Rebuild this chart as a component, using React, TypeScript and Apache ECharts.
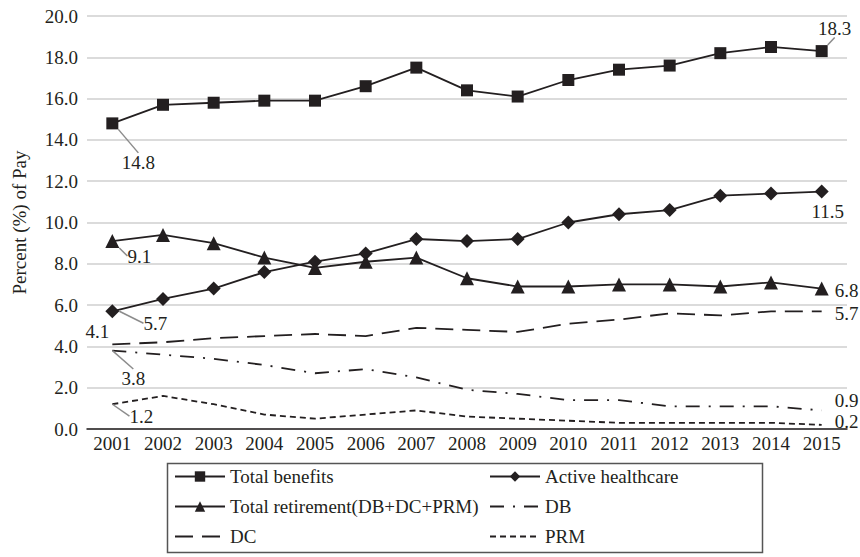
import React, { useEffect, useRef } from "react";
import * as echarts from "echarts";

const years = ["2001","2002","2003","2004","2005","2006","2007","2008","2009","2010","2011","2012","2013","2014","2015"];
const totalBenefits = [14.8, 15.7, 15.8, 15.9, 15.9, 16.6, 17.5, 16.4, 16.1, 16.9, 17.4, 17.6, 18.2, 18.5, 18.3];
const activeHealthcare = [5.7, 6.3, 6.8, 7.6, 8.1, 8.5, 9.2, 9.1, 9.2, 10.0, 10.4, 10.6, 11.3, 11.4, 11.5];
const totalRetirement = [9.1, 9.4, 9.0, 8.3, 7.8, 8.1, 8.3, 7.3, 6.9, 6.9, 7.0, 7.0, 6.9, 7.1, 6.8];
const db = [3.8, 3.6, 3.4, 3.1, 2.7, 2.9, 2.5, 1.9, 1.7, 1.4, 1.4, 1.1, 1.1, 1.1, 0.9];
const dc = [4.1, 4.2, 4.4, 4.5, 4.6, 4.5, 4.9, 4.8, 4.7, 5.1, 5.3, 5.6, 5.5, 5.7, 5.7];
const prm = [1.2, 1.6, 1.2, 0.7, 0.5, 0.7, 0.9, 0.6, 0.5, 0.4, 0.3, 0.3, 0.3, 0.3, 0.2];
const yTicks = [0, 2, 4, 6, 8, 10, 12, 14, 16, 18, 20];

const INK = "#231f20";
const FONT = "Liberation Serif";
const FS = 19;

// label offsets: [dx, dy, leader] for first and last points
const offsets: Record<string, [number, number, boolean][]> = {
  "Total benefits": [[26, 39, true], [13, -23, true]],
  "Active healthcare": [[43, 12, true], [6, 20, false]],
  "Total retirement(DB+DC+PRM)": [[27, 15, true], [25, 2, false]],
  "DB": [[21, 28, true], [25, -10, false]],
  "DC": [[-15, -13, false], [25, 2, false]],
  "PRM": [[29, 12, true], [25, -3, false]],
};

function makeData(name: string, values: number[]) {
  const last = values.length - 1;
  return values.map((v, i) => {
    if (i !== 0 && i !== last) return v;
    const o = offsets[name][i === 0 ? 0 : 1];
    return {
      value: v,
      label: {
        show: true,
        position: "inside",
        formatter: (p: any) => Number(p.value).toFixed(1),
        color: INK,
        fontFamily: FONT,
        fontSize: FS,
      },
      labelLine: { show: o[2], lineStyle: { color: "#8c8c8c", width: 1.5 } },
    };
  });
}

function lineSeries(name: string, values: number[], symbol: string, symbolSize: number, dash: any) {
  const hasSymbol = symbol !== "none";
  return {
    name,
    type: "line",
    data: makeData(name, values),
    symbol: hasSymbol ? symbol : "circle",
    symbolSize: hasSymbol ? symbolSize : 1,
    showSymbol: true,
    itemStyle: { color: hasSymbol ? INK : "rgba(0,0,0,0)" },
    lineStyle: { color: INK, width: 1.8, type: dash },
    labelLayout: (p: any) => {
      const idx = p.dataIndex === 0 ? 0 : 1;
      const o = offsets[name][idx];
      return { dx: o[0], dy: o[1] };
    },
    labelLine: { show: false, lineStyle: { color: "#8c8c8c", width: 1.5 } },
    z: hasSymbol ? 3 : 2,
  };
}

export default function App() {
  const ref = useRef<HTMLDivElement>(null);
  useEffect(() => {
    if (!ref.current) return;
    const chart = echarts.init(ref.current, null, { renderer: "svg" });
    const textStyle = { color: INK, fontFamily: FONT, fontSize: FS };
    const legendCommon = {
      orient: "vertical",
      top: 467,
      height: 88,
      padding: 0,
      itemWidth: 50,
      itemHeight: 13,
      itemGap: 11,
      textStyle: { ...textStyle, lineHeight: 18 },
    };
    chart.setOption({
      animation: false,
      textStyle: { fontFamily: FONT },
      grid: { left: 87, right: 13, top: 16, bottom: 128 },
      xAxis: {
        type: "category",
        data: years,
        boundaryGap: true,
        axisLine: { lineStyle: { color: INK, width: 1.5 } },
        axisTick: { show: false },
        axisLabel: { ...textStyle, margin: 5 },
      },
      yAxis: {
        type: "value",
        min: yTicks[0],
        max: yTicks[yTicks.length - 1],
        interval: 2,
        name: "Percent (%) of Pay",
        nameLocation: "middle",
        nameGap: 58,
        nameTextStyle: textStyle,
        axisLine: { show: false },
        axisTick: { show: false },
        axisLabel: { ...textStyle, margin: 9, formatter: (v: number) => v.toFixed(1) },
        splitLine: { lineStyle: { color: "#cfcfcf", width: 1.5 } },
      },
      legend: [
        { ...legendCommon, left: 174, data: ["Total benefits", "Total retirement(DB+DC+PRM)", "DC"] },
        { ...legendCommon, left: 489, data: ["Active healthcare", "DB", "PRM"] },
      ],
      graphic: [
        {
          type: "rect",
          left: 165,
          top: 461,
          shape: { width: 595, height: 89 },
          style: { fill: "none", stroke: "#555", lineWidth: 1.5 },
          silent: true,
        },
      ],
      series: [
        lineSeries("Total benefits", totalBenefits, "rect", 12, "solid"),
        lineSeries("Active healthcare", activeHealthcare, "diamond", 14, "solid"),
        lineSeries("Total retirement(DB+DC+PRM)", totalRetirement, "triangle", 14, "solid"),
        lineSeries("DB", db, "none", 1, [14, 9, 2, 9]),
        lineSeries("DC", dc, "none", 1, [18, 9]),
        lineSeries("PRM", prm, "none", 1, [6, 4]),
      ],
    });
    return () => chart.dispose();
  }, []);
  return <div ref={ref} style={{ width: 860, height: 557, position: "absolute", left: 0, top: 0 }} />;
}
